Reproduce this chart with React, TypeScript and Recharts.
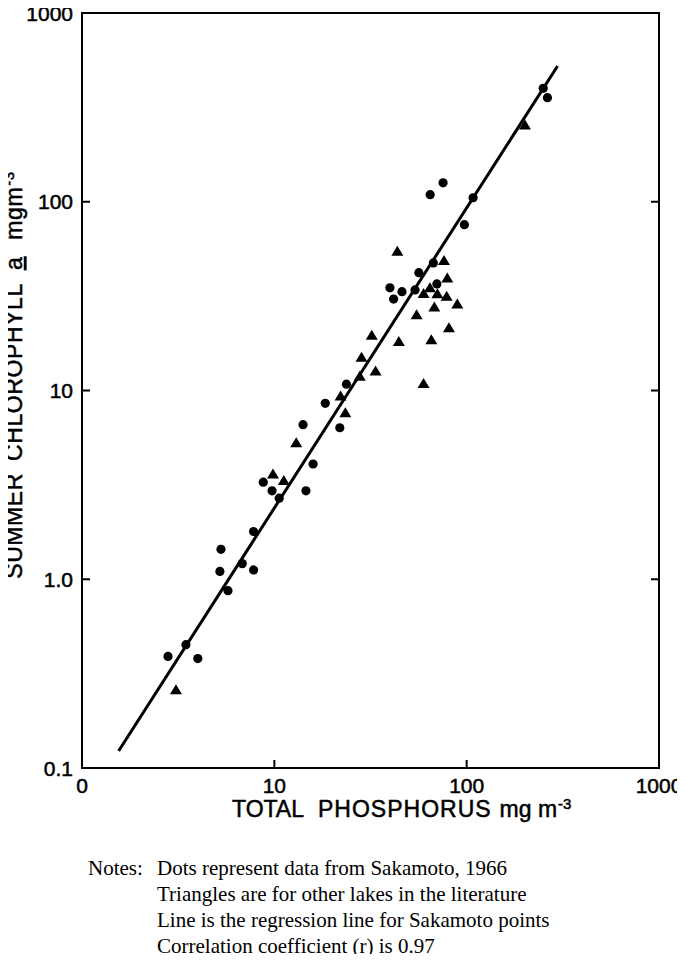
import { Label, ReferenceArea, Scatter, ScatterChart, XAxis, YAxis } from "recharts";

// Sakamoto (1966) lakes — dots
const sakamotoTP = [
  2.8, 3.47, 4.0, 5.28, 5.21, 5.74, 6.81, 7.8, 7.8, 8.76, 9.73, 10.6, 14.6, 15.9, 14.1, 18.4,
  21.9, 23.7, 39.9, 46.1, 41.7, 53.9, 56.4, 67.1, 70.0, 64.6, 75.4, 108, 97.3, 250, 263,
];
const sakamotoChl = [
  0.39, 0.45, 0.38, 1.44, 1.1, 0.87, 1.21, 1.12, 1.79, 3.27, 2.94, 2.69, 2.94, 4.08, 6.59, 8.55,
  6.35, 10.8, 35.0, 33.4, 30.5, 34.1, 42.1, 47.4, 36.7, 109, 126, 105, 75.6, 399, 356,
];

// other lakes from the literature — triangles
const otherTP = [
  3.08, 9.84, 11.2, 13.0, 23.4, 22.1, 27.8, 28.4, 33.6, 32.1, 44.4, 59.7, 65.5, 54.9, 67.9, 80.9,
  89.4, 43.6, 76.2, 79.3, 59.7, 64.4, 70.4, 78.7, 201,
];
const otherChl = [
  0.26, 3.61, 3.34, 5.29, 7.63, 9.35, 11.9, 15.0, 12.7, 19.6, 18.2, 10.9, 18.6, 25.2, 27.7, 21.5,
  28.7, 54.6, 48.8, 39.4, 32.7, 35.0, 32.6, 31.6, 255,
];

// regression line end points (Sakamoto points)
const lineTP = [1.55, 297];
const lineChl = [0.123, 524];

const xTicks = [1, 10, 100, 1000];
const xTickLabels = ["0", "10", "100", "1000"];
const yTicks = [0.1, 1, 10, 100, 1000];
const yTickLabels = ["0.1", "1.0", "10", "100", "1000"];

const notes = [
  "Dots represent data from Sakamoto, 1966",
  "Triangles are for other lakes in the literature",
  "Line is the regression line for Sakamoto points",
  "Correlation coefficient (r) is 0.97",
];

const toPoints = (xs: number[], ys: number[]) => xs.map((x, i) => ({ x, y: ys[i] }));

// the wrapper cancels the body margin so chart coords == page coords
const CHART_W = 685;
const CHART_H = 840;
const MARGIN = { top: 13, right: 26, bottom: 0, left: 0 };
const Y_AXIS_W = 82;
const X_AXIS_H = 72;
const PLOT_RIGHT = CHART_W - MARGIN.right;
const TICK_GAP_Y = 9;
const TICK_GAP_X = 10;
const INNER_TICK = 8;

const sans = "'Liberation Sans', Arial, Helvetica, sans-serif";
const ink = "#000";

function Dot(props: any) {
  return <circle cx={props.cx} cy={props.cy} r={4.6} fill={ink} />;
}

function Triangle(props: any) {
  const { cx, cy } = props;
  return <path d={`M${cx},${cy - 5.5}L${cx + 6},${cy + 4.5}L${cx - 6},${cy + 4.5}Z`} fill={ink} />;
}

const noShape = () => <g />;

function YTick(props: any) {
  const { x, y, payload } = props;
  const v = payload.value;
  const label = yTickLabels[yTicks.indexOf(v)];
  const inner = v > yTicks[0] && v < yTicks[yTicks.length - 1];
  const axisX = x + TICK_GAP_Y;
  return (
    <g>
      <text x={x} y={y} dy="0.36em" textAnchor="end" fontFamily={sans} fontSize={21}
        fill={ink} stroke={ink} strokeWidth={0.5}>
        {label}
      </text>
      {inner && <line x1={axisX} x2={axisX + INNER_TICK} y1={y} y2={y} stroke={ink} strokeWidth={2} />}
      {inner && (
        <line x1={PLOT_RIGHT} x2={PLOT_RIGHT - INNER_TICK} y1={y} y2={y} stroke={ink} strokeWidth={2} />
      )}
    </g>
  );
}

function XTick(props: any) {
  const { x, y, payload } = props;
  const v = payload.value;
  const label = xTickLabels[xTicks.indexOf(v)];
  const inner = v > xTicks[0] && v < xTicks[xTicks.length - 1];
  const axisY = y - TICK_GAP_X;
  return (
    <g>
      <text x={x} y={y} dy="0.71em" textAnchor="middle" fontFamily={sans} fontSize={21}
        fill={ink} stroke={ink} strokeWidth={0.5}>
        {label}
      </text>
      {inner && <line x1={x} x2={x} y1={axisY} y2={axisY - INNER_TICK} stroke={ink} strokeWidth={2} />}
    </g>
  );
}

function XTitle() {
  return (
    <text x={232} y={817} fontFamily={sans} fontSize={23} fill={ink} stroke={ink} strokeWidth={0.5}>
      <tspan>TOTAL</tspan>
      <tspan dx={14} letterSpacing={1}>PHOSPHORUS</tspan>
      <tspan dx={8}>mg m</tspan>
      <tspan dx={1} dy={-8} fontSize={15}>-3</tspan>
    </text>
  );
}

function YTitle() {
  return (
    <text transform="translate(22, 375) rotate(-90)" textAnchor="middle" fontFamily={sans}
      fontSize={23} letterSpacing={0.6} fill={ink} stroke={ink} strokeWidth={0.5}>
      <tspan>SUMMER</tspan>
      <tspan dx={12}>CHLOROPHYLL</tspan>
      <tspan dx={13} textDecoration="underline">a</tspan>
      <tspan dx={17}>mgm</tspan>
      <tspan dx={1} dy={-8} fontSize={15}>-3</tspan>
    </text>
  );
}

export default function App() {
  return (
    <div style={{ position: "relative", width: CHART_W, height: 962, margin: -8, background: "#fff" }}>
      <ScatterChart width={CHART_W} height={CHART_H} margin={MARGIN}>
        <XAxis
          type="number"
          dataKey="x"
          scale="log"
          domain={[1, 1000]}
          ticks={xTicks}
          allowDataOverflow
          axisLine={false}
          tickLine={false}
          tickSize={0}
          tickMargin={TICK_GAP_X}
          height={X_AXIS_H}
          tick={<XTick />}
          interval={0}
        >
          <Label content={() => <XTitle />} />
        </XAxis>
        <YAxis
          type="number"
          dataKey="y"
          scale="log"
          domain={[0.1, 1000]}
          ticks={yTicks}
          allowDataOverflow
          axisLine={false}
          tickLine={false}
          tickSize={0}
          tickMargin={TICK_GAP_Y}
          width={Y_AXIS_W}
          tick={<YTick />}
          interval={0}
        >
          <Label content={() => <YTitle />} />
        </YAxis>
        <ReferenceArea x1={1} x2={1000} y1={0.1} y2={1000} fill="none" stroke={ink} strokeWidth={2}
          fillOpacity={0} />
        <Scatter
          data={toPoints(lineTP, lineChl)}
          line={{ stroke: ink, strokeWidth: 3 }}
          shape={noShape}
          isAnimationActive={false}
        />
        <Scatter data={toPoints(sakamotoTP, sakamotoChl)} shape={Dot} isAnimationActive={false} />
        <Scatter data={toPoints(otherTP, otherChl)} shape={Triangle} isAnimationActive={false} />
      </ScatterChart>
      <div
        style={{
          position: "absolute",
          left: 88,
          top: 855,
          fontFamily: "'Liberation Serif', 'Times New Roman', serif",
          fontSize: 21,
          lineHeight: "26px",
          color: "#000",
          display: "flex",
        }}
      >
        <div style={{ width: 69 }}>Notes:</div>
        <div>
          {notes.map((n) => (
            <div key={n}>{n}</div>
          ))}
        </div>
      </div>
    </div>
  );
}
